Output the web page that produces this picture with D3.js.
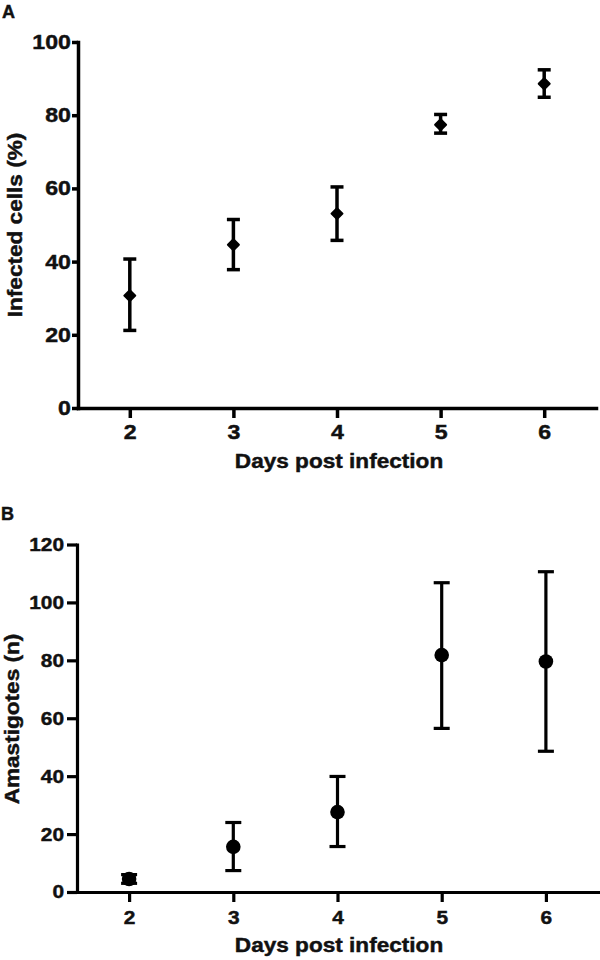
<!DOCTYPE html>
<html>
<head>
<meta charset="utf-8">
<script src="https://cdn.jsdelivr.net/npm/d3@7"></script>
<style>
  html, body { margin: 0; padding: 0; background: #fff; }
  svg { display: block; }
  text { font-family: "Liberation Sans", Arial, sans-serif; font-weight: bold; fill: #111; stroke: #111; stroke-width: 0.45px; }
</style>
</head>
<body>
<script>
// ---- Data ----
const days = [2, 3, 4, 5, 6];
const xTickLabels = ["2", "3", "4", "5", "6"];

// Panel A: Infected cells (%)
const infectedMean  = [30.7, 44.6, 53.1, 77.4, 88.6];
const infectedUpper = [40.7, 51.5, 60.4, 80.2, 92.4];
const infectedLower = [21.2, 37.8, 45.8, 75.1, 84.9];
const yTicksA = [0, 20, 40, 60, 80, 100];

// Panel B: Amastigotes (n)
const amastMean  = [4.5, 15.6, 27.6, 81.8, 79.6];
const amastUpper = [6.0, 24.0, 39.9, 106.8, 110.6];
const amastLower = [3.0, 7.4, 15.7, 56.5, 48.6];
const yTicksB = [0, 20, 40, 60, 80, 100, 120];

const W = 600, H = 960;
const svg = d3.select("body").append("svg").attr("width", W).attr("height", H);

function panel(cfg) {
  const x = d3.scaleLinear().domain([1.5, 6.5]).range([cfg.x0, cfg.x1]);
  const y = d3.scaleLinear().domain(cfg.yDomain).range([cfg.y0, cfg.y1]);
  const g = svg.append("g");

  // Error bars
  const data = days.map((d, i) => ({ d, m: cfg.mean[i], hi: cfg.upper[i], lo: cfg.lower[i] }));
  const eb = g.append("g").selectAll("g").data(data).join("g");
  eb.append("line")
    .attr("x1", d => x(d.d)).attr("x2", d => x(d.d))
    .attr("y1", d => y(d.hi)).attr("y2", d => y(d.lo))
    .attr("stroke", "#000").attr("stroke-width", cfg.ebw);
  eb.append("line")
    .attr("x1", d => x(d.d) - cfg.cap).attr("x2", d => x(d.d) + cfg.cap)
    .attr("y1", d => y(d.hi)).attr("y2", d => y(d.hi))
    .attr("stroke", "#000").attr("stroke-width", cfg.ebw);
  eb.append("line")
    .attr("x1", d => x(d.d) - cfg.cap).attr("x2", d => x(d.d) + cfg.cap)
    .attr("y1", d => y(d.lo)).attr("y2", d => y(d.lo))
    .attr("stroke", "#000").attr("stroke-width", cfg.ebw);

  // Markers
  if (cfg.marker === "diamond") {
    const r = cfg.msize;
    eb.append("path")
      .attr("d", d => {
        const cx = x(d.d), cy = y(d.m);
        return `M${cx},${cy - r}L${cx + r},${cy}L${cx},${cy + r}L${cx - r},${cy}Z`;
      })
      .attr("fill", "#000").attr("stroke", "#000").attr("stroke-width", 2).attr("stroke-linejoin", "round");
  } else {
    eb.append("circle")
      .attr("cx", d => x(d.d)).attr("cy", d => y(d.m)).attr("r", cfg.msize)
      .attr("fill", "#000");
  }

  // Axes
  const sx = 1.13;
  const yAxis = g.append("g").attr("transform", `translate(${cfg.x0},0)`)
    .call(d3.axisLeft(y).tickValues(cfg.yTicks).tickSize(cfg.yTick).tickSizeOuter(0).tickFormat(d3.format("d")));
  yAxis.selectAll("path, line").attr("stroke", "#000").attr("stroke-width", cfg.aw);
  yAxis.selectAll("text")
    .attr("x", 0)
    .attr("transform", `translate(${-(cfg.yTick + cfg.yPad)},0) scale(${sx},1)`)
    .style("font-size", cfg.tfs + "px").style("font-family", null).attr("fill", "#111");

  const xAxis = g.append("g").attr("transform", `translate(0,${cfg.y0})`)
    .call(d3.axisBottom(x).tickValues(days).tickSize(cfg.xTick).tickPadding(cfg.xPad).tickSizeOuter(0)
      .tickFormat((d, i) => xTickLabels[i]));
  xAxis.selectAll("path, line").attr("stroke", "#000").attr("stroke-width", cfg.aw);
  xAxis.selectAll("text")
    .attr("transform", `scale(${sx},1)`)
    .style("font-size", cfg.tfs + "px").style("font-family", null).attr("fill", "#111");
  yAxis.select(".domain").attr("stroke-linecap", "square");
  xAxis.select(".domain").attr("stroke-linecap", "square");
  g.selectAll(".domain").attr("fill", "none");

  // Titles
  g.append("text")
    .attr("text-anchor", "middle")
    .attr("transform", `translate(${cfg.xTitleX},${cfg.xTitleY}) scale(1.13,1)`)
    .style("font-size", "20px")
    .text("Days post infection");
  g.append("text")
    .attr("text-anchor", "middle")
    .attr("transform", `translate(${cfg.yTitleX},${cfg.yTitleY}) rotate(-90) scale(1.13,1)`)
    .style("font-size", "20px")
    .text(cfg.yTitle);

  g.append("text")
    .attr("x", cfg.letterX).attr("y", cfg.letterY)
    .style("font-size", "18px")
    .text(cfg.letter);
}

panel({
  letter: "A", letterX: 2, letterY: 18,
  x0: 78, x1: 596, y0: 408, y1: 42, yDomain: [0, 100],
  mean: infectedMean, upper: infectedUpper, lower: infectedLower,
  yTicks: yTicksA, yTick: 6, yPad: 1, xTick: 10, xPad: 6,
  aw: 3.5, ebw: 3.5, cap: 6.5, marker: "diamond", msize: 5.5, tfs: 20.5,
  xTitleX: 339, xTitleY: 468, yTitleX: 21.5, yTitleY: 225,
  yTitle: "Infected cells (%)"
});

panel({
  letter: "B", letterX: 1, letterY: 520,
  x0: 77, x1: 598, y0: 892, y1: 544.5, yDomain: [0, 120],
  mean: amastMean, upper: amastUpper, lower: amastLower,
  yTicks: yTicksB, yTick: 10, yPad: 3, xTick: 10, xPad: 9,
  aw: 3.2, ebw: 3.2, cap: 8, marker: "circle", msize: 7.3, tfs: 18.5,
  xTitleX: 339, xTitleY: 951.5, yTitleX: 18.5, yTitleY: 719,
  yTitle: "Amastigotes (n)"
});
</script>
</body>
</html>
